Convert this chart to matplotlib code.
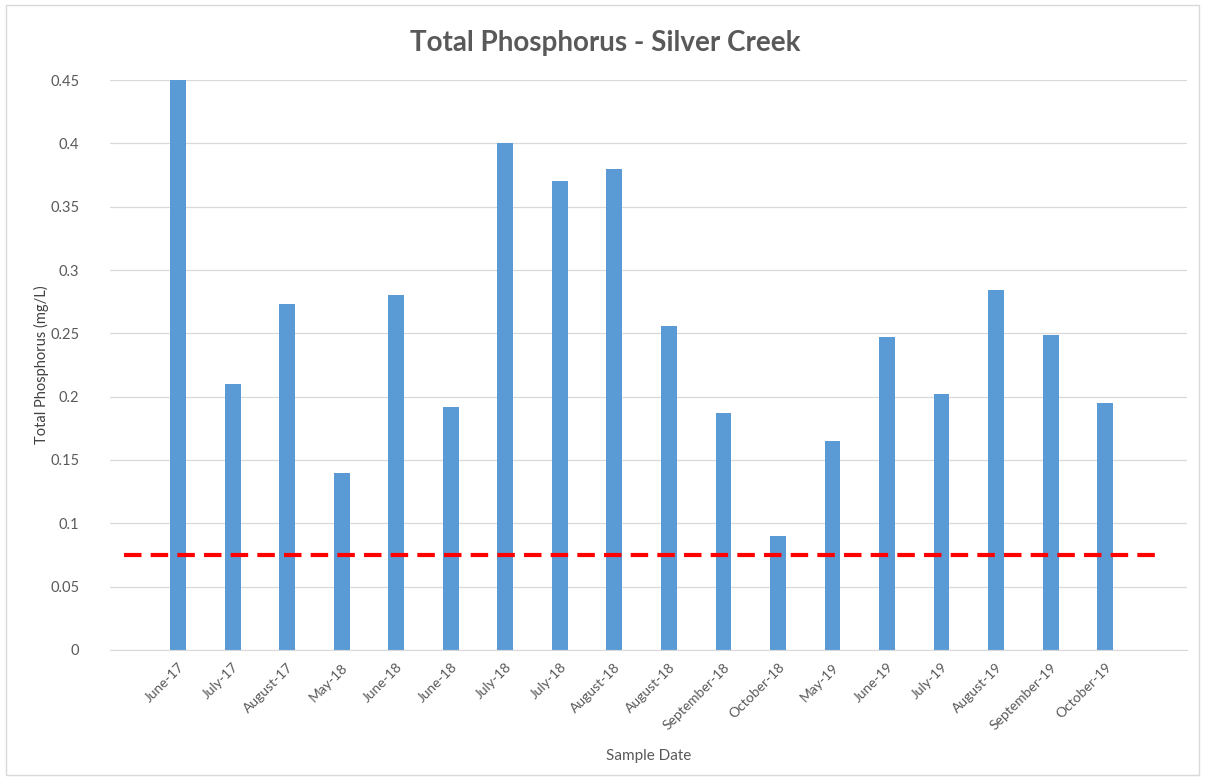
import matplotlib.pyplot as plt
from matplotlib.patches import Rectangle

# Sample dates and total phosphorus readings (mg/L)
dates = ["June-17", "July-17", "August-17", "May-18", "June-18", "June-18",
         "July-18", "July-18", "August-18", "August-18", "September-18", "October-18",
         "May-19", "June-19", "July-19", "August-19", "September-19", "October-19"]
phosphorus = [0.45, 0.21, 0.273, 0.14, 0.28, 0.192,
              0.40, 0.37, 0.38, 0.256, 0.187, 0.09,
              0.165, 0.247, 0.202, 0.284, 0.249, 0.195]

# Standard line drawn across the chart
threshold = [0.075, 0.075]
threshold_x = [0, 19]

yticks = [0, 0.05, 0.1, 0.15, 0.2, 0.25, 0.3, 0.35, 0.4, 0.45]
ytick_labels = ["0", "0.05", "0.1", "0.15", "0.2", "0.25", "0.3", "0.35", "0.4", "0.45"]

plt.rcParams['font.family'] = ['Lato', 'DejaVu Sans']
text_color = '#595959'

fig = plt.figure(figsize=(12.05, 7.8), dpi=100)
ax = fig.add_axes([0.0913, 0.1667, 0.8937, 0.7307])

x = list(range(1, len(dates) + 1))
ax.bar(x, phosphorus, width=0.29, color='#5b9bd5', zorder=2)
ax.plot(threshold_x, threshold, color='#ff0000', linestyle=(0, (4.2, 2.2)), linewidth=3, zorder=3)

ax.set_xlim(-0.25, 19.5)
ax.set_ylim(0, 0.45)
ax.set_yticks(yticks)
ax.set_yticklabels(ytick_labels)
ax.set_xticks(x)
ax.set_xticklabels(dates, rotation=45, ha='right', rotation_mode='anchor')

ax.tick_params(axis='y', length=0, pad=22, labelsize=10.5, labelcolor=text_color)
ax.tick_params(axis='x', length=0, pad=8, labelsize=10, labelcolor=text_color)
ax.grid(axis='y', color='#d9d9d9', linewidth=0.9, zorder=0)
for s in ['top', 'right', 'left']:
    ax.spines[s].set_visible(False)
ax.spines['bottom'].set_color('#d9d9d9')

ax.set_xlabel("Sample Date", fontsize=11, color=text_color, labelpad=12)
ax.set_ylabel("Total Phosphorus (mg/L)", fontsize=10.5, color='#404040', labelpad=1)
fig.text(0.502, 0.945, "Total Phosphorus - Silver Creek", ha='center', va='center',
         fontsize=20, fontweight='bold', color=text_color)

# light chart-area border
fig.patches.append(Rectangle((0.005, 0.006), 0.99, 0.987, transform=fig.transFigure,
                             fill=False, edgecolor='#d9d9d9', linewidth=1))

fig.savefig("out.png", dpi=100)
